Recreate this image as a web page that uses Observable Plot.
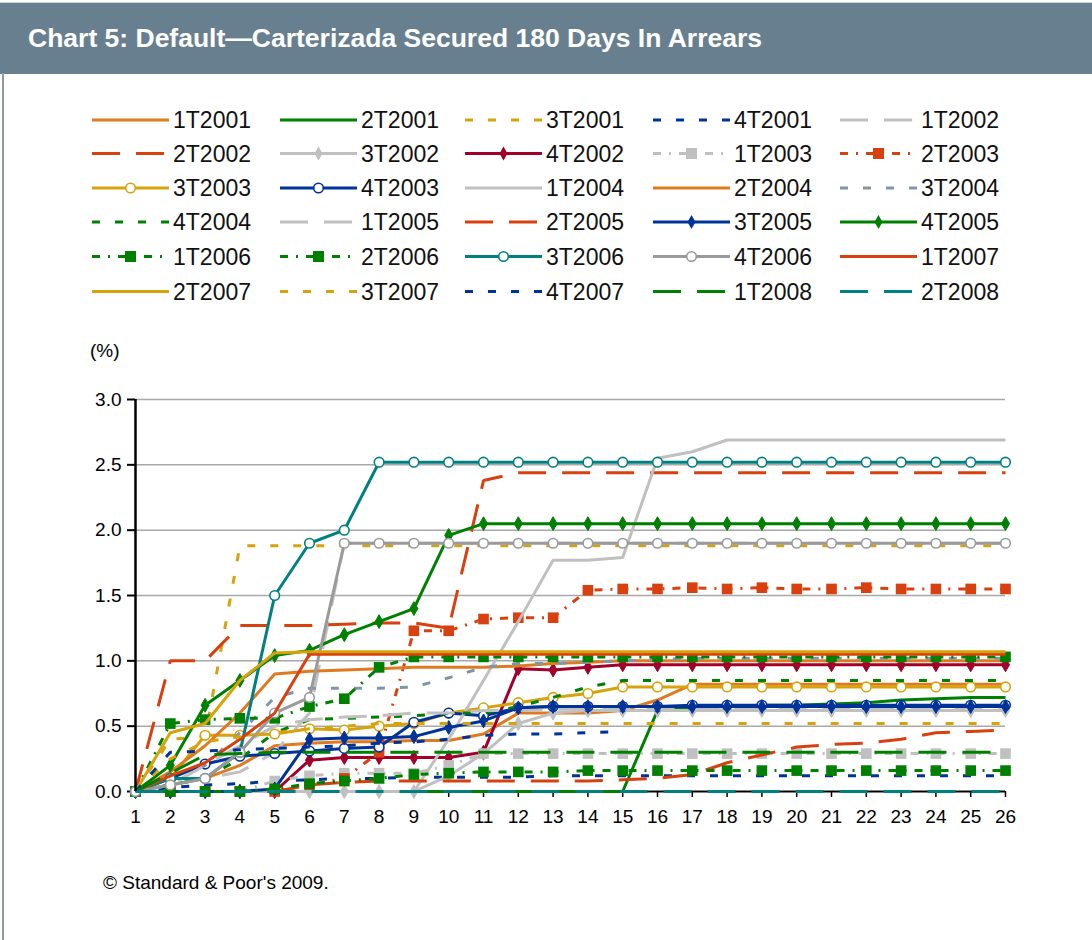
<!DOCTYPE html>
<html><head><meta charset="utf-8">
<script src="https://cdn.jsdelivr.net/npm/d3@7"></script>
<script src="https://cdn.jsdelivr.net/npm/@observablehq/plot@0.6"></script>
<style>
body{margin:0;background:#fff;}
#page{position:relative;width:1092px;height:940px;overflow:hidden;background:#fff;font-family:"Liberation Sans",Arial,sans-serif;}
#band{position:absolute;left:0;top:2px;width:1092px;height:71px;background:#687F90;border-top:1px solid #c9d2d8;}
#frameL{position:absolute;left:2px;top:73px;width:2px;height:867px;background:#8d9ba6;}
#title{position:absolute;left:0;top:0;}
#legend{position:absolute;left:0;top:100px;}
#unit{position:absolute;left:90px;top:340px;font-size:19px;color:#000;}
#chart{position:absolute;left:0;top:330px;}
#caption{position:absolute;left:103px;top:872px;font-size:19px;color:#000;}
</style></head>
<body>
<div id="page">
  <div id="band"></div>
  <div id="frameL"></div>
  <svg id="title" width="1092" height="75"><text x="28" y="47" fill="#fff" font-family="'Liberation Sans Narrow','Liberation Sans',Arial" font-weight="bold" font-size="26" textLength="734" lengthAdjust="spacingAndGlyphs">Chart 5: Default—Carterizada Secured 180 Days In Arrears</text></svg>
  <svg id="legend" width="1092" height="210"></svg>
  <div id="unit">(%)</div>
  <div id="chart"></div>
  <div id="caption">© Standard &amp; Poor's 2009.</div>
</div>
<script>
// ---------- data ----------
const quarters = [1,2,3,4,5,6,7,8,9,10,11,12,13,14,15,16,17,18,19,20,21,22,23,24,25,26];
const yTicks = [0,0.5,1.0,1.5,2.0,2.5,3.0];
const seriesNames = ["1T2001","2T2001","3T2001","4T2001","1T2002","2T2002","3T2002","4T2002","1T2003","2T2003",
  "3T2003","4T2003","1T2004","2T2004","3T2004","4T2004","1T2005","2T2005","3T2005","4T2005",
  "1T2006","2T2006","3T2006","4T2006","1T2007","2T2007","3T2007","4T2007","1T2008","2T2008"];

const v1T2001 = [0,0.05,0.1,0.2,0.35,0.37,0.38,0.38,0.39,0.39,0.44,0.6,0.6,0.6,0.62,0.7,0.82,0.82,0.82,0.82,0.82,0.82,0.82,0.82,0.82,0.82];
const v2T2001 = [0,0,0,0,0,0,0,0,0,0,0,0,0,0,0,0.62,0.64,0.65,0.66,0.66,0.67,0.68,0.7,0.71,0.72,0.72];
const v3T2001 = [0,0.4,0.42,1.88,1.88,1.88,1.88,1.88,1.88,1.88,1.88,1.88,1.88,1.88,1.88,1.88,1.88,1.88,1.88,1.88,1.88,1.88,1.88,1.88,1.88,1.88];
const v4T2001 = [0,0.03,0.05,0.06,0.08,0.09,0.1,0.1,0.11,0.11,0.11,0.11,0.12,0.12,0.12,0.12,0.12,0.12,0.12,0.12,0.12,0.12,0.12,0.12,0.12,0.12];
const v1T2002 = [0,0.05,0.1,0.15,0.3,0.6,1.9,1.9,1.9,1.9,1.9,1.9,1.9,1.9,1.9,1.9,1.9,1.9,1.9,1.9,1.9,1.9,1.9,1.9,1.9,1.9];
const v2T2002 = [0,1.0,1.0,1.27,1.27,1.27,1.28,1.29,1.29,1.25,2.38,2.44,2.44,2.44,2.44,2.44,2.44,2.44,2.44,2.44,2.44,2.44,2.44,2.44,2.44,2.44];
const v3T2002 = [0,0,0,0,0,0,0,0,0,0.12,0.29,0.52,0.6,0.62,0.62,0.62,0.62,0.62,0.62,0.62,0.62,0.62,0.62,0.62,0.62,0.62];
const v4T2002 = [0,0,0,0,0,0.24,0.26,0.26,0.26,0.26,0.3,0.94,0.93,0.95,0.97,0.97,0.97,0.97,0.97,0.97,0.97,0.97,0.97,0.97,0.97,0.97];
const v1T2003 = [0,0,0,0,0.08,0.12,0.14,0.14,0.14,0.2,0.29,0.29,0.29,0.29,0.29,0.29,0.29,0.29,0.29,0.29,0.29,0.29,0.29,0.29,0.29,0.29];
const v2T2003 = [0,0,0,0,0,0.05,0.1,0.3,1.23,1.23,1.32,1.33,1.33,1.54,1.55,1.55,1.56,1.55,1.56,1.55,1.55,1.56,1.55,1.55,1.55,1.55];
const v3T2003 = [0,0.1,0.43,0.43,0.44,0.48,0.47,0.5,0.52,0.6,0.64,0.68,0.72,0.75,0.8,0.8,0.8,0.8,0.8,0.8,0.8,0.8,0.8,0.8,0.8,0.8];
const v4T2003 = [0,0.1,0.21,0.27,0.29,0.31,0.33,0.34,0.53,0.6,0.58,0.64,0.65,0.65,0.65,0.65,0.66,0.66,0.66,0.66,0.66,0.66,0.66,0.66,0.66,0.66];
const v1T2004 = [0,0,0,0,0,0,0,0,0,0.4,0.85,1.3,1.77,1.77,1.79,2.55,2.6,2.69,2.69,2.69,2.69,2.69,2.69,2.69,2.69,2.69];
const v2T2004 = [0,0.15,0.35,0.6,0.9,0.92,0.93,0.94,0.95,0.95,0.95,0.96,0.98,0.99,1.0,1.0,1.0,1.0,1.0,1.0,1.0,1.0,1.0,1.0,1.0,1.0];
const v3T2004 = [0,0.05,0.2,0.45,0.72,0.79,0.79,0.79,0.8,0.87,0.95,0.98,0.98,0.99,1.0,1.01,1.02,1.02,1.02,1.02,1.02,1.02,1.02,1.02,1.02,1.02];
const v4T2004 = [0,0.05,0.1,0.25,0.45,0.55,0.56,0.57,0.58,0.6,0.6,0.65,0.72,0.8,0.85,0.85,0.85,0.85,0.85,0.85,0.85,0.85,0.85,0.85,0.85,0.85];
const v1T2005 = [0,0.05,0.2,0.35,0.5,0.55,0.57,0.58,0.6,0.6,0.62,0.62,0.63,0.63,0.63,0.63,0.63,0.63,0.63,0.63,0.63,0.63,0.63,0.63,0.63,0.63];
const v2T2005 = [0,0,0,0,0,0.05,0.07,0.08,0.08,0.08,0.08,0.08,0.08,0.08,0.09,0.1,0.13,0.22,0.28,0.34,0.36,0.37,0.4,0.45,0.46,0.47];
const v3T2005 = [0,0,0,0,0.02,0.4,0.41,0.41,0.42,0.49,0.54,0.64,0.65,0.65,0.65,0.65,0.65,0.65,0.65,0.65,0.65,0.65,0.65,0.65,0.65,0.65];
const v4T2005 = [0,0.2,0.66,0.85,1.04,1.08,1.2,1.3,1.4,1.96,2.05,2.05,2.05,2.05,2.05,2.05,2.05,2.05,2.05,2.05,2.05,2.05,2.05,2.05,2.05,2.05];
const v1T2006 = [0,0.52,0.55,0.56,0.56,0.65,0.71,0.95,1.03,1.03,1.03,1.03,1.03,1.03,1.03,1.03,1.03,1.03,1.03,1.03,1.03,1.03,1.03,1.03,1.03,1.03];
const v2T2006 = [0,0,0,0,0.02,0.06,0.08,0.1,0.13,0.14,0.15,0.15,0.15,0.16,0.16,0.16,0.16,0.16,0.16,0.16,0.16,0.16,0.16,0.16,0.16,0.16];
const v3T2006 = [0,0.1,0.1,0.3,1.5,1.9,2.0,2.52,2.52,2.52,2.52,2.52,2.52,2.52,2.52,2.52,2.52,2.52,2.52,2.52,2.52,2.52,2.52,2.52,2.52,2.52];
const v4T2006 = [0,0.05,0.1,0.3,0.6,0.72,1.9,1.9,1.9,1.9,1.9,1.9,1.9,1.9,1.9,1.9,1.9,1.9,1.9,1.9,1.9,1.9,1.9,1.9,1.9,1.9];
const v1T2007 = [0,0.12,0.22,0.4,0.6,1.05,1.05,1.05,1.05,1.05,1.05,1.05,1.05,1.05,1.05,1.05,1.05,1.05,1.05,1.05,1.05,1.05,1.05,1.05,1.05,1.05];
const v2T2007 = [0,0.45,0.52,0.85,1.06,1.07,1.07,1.07,1.07,1.07,1.07,1.07,1.07,1.07,1.07,1.07,1.07,1.07,1.07,1.07,1.07,1.07,1.07,1.07,1.07,1.07];
const v3T2007 = [0,0.25,0.38,0.42,0.45,0.48,0.5,0.52,0.52,0.52,0.52,0.52,0.52,0.52,0.52,0.52,0.52,0.52,0.52,0.52,0.52,0.52,0.52,0.52,0.52,0.52];
const v4T2007 = [0,0.3,0.31,0.32,0.33,0.34,0.35,0.37,0.38,0.4,0.43,0.44,0.44,0.45,0.46];
const v1T2008 = [0,0.14,0.28,0.29,0.3,0.3,0.3,0.3,0.3,0.3,0.3,0.3,0.3,0.3,0.3,0.3,0.3,0.3,0.3,0.3,0.3,0.3,0.3,0.3,0.3,0.3];
const v2T2008 = [0,0,0,0,0,0,0,0,0,0,0,0,0,0,0,0,0,0,0,0,0,0,0,0,0,0];

const seriesValues = [v1T2001,v2T2001,v3T2001,v4T2001,v1T2002,v2T2002,v3T2002,v4T2002,v1T2003,v2T2003,
  v3T2003,v4T2003,v1T2004,v2T2004,v3T2004,v4T2004,v1T2005,v2T2005,v3T2005,v4T2005,
  v1T2006,v2T2006,v3T2006,v4T2006,v1T2007,v2T2007,v3T2007,v4T2007,v1T2008,v2T2008];

// ---------- styles ----------
const C = {orange:"#E07A1F", red:"#D9400F", gold:"#D6A30A", green:"#008000", blue:"#003399",
  teal:"#008080", crimson:"#A0002A", lgray:"#C0C0C0", dgray:"#9A9A9A", slate:"#7F96A8"};
const SH = "8,15", LD = "28,16", DD = "8,8,2,8";
const styles = {
  "1T2001":{c:C.orange},            "2T2001":{c:C.green},
  "3T2001":{c:C.gold,d:SH},         "4T2001":{c:C.blue,d:SH},
  "1T2002":{c:C.lgray,d:LD},        "2T2002":{c:C.red,d:LD},
  "3T2002":{c:C.lgray,m:"diamond"}, "4T2002":{c:C.crimson,m:"diamond"},
  "1T2003":{c:C.lgray,d:DD,m:"square"}, "2T2003":{c:C.red,d:DD,m:"square"},
  "3T2003":{c:C.gold,m:"open"},     "4T2003":{c:C.blue,m:"open"},
  "1T2004":{c:C.lgray},             "2T2004":{c:C.orange},
  "3T2004":{c:C.slate,d:SH},        "4T2004":{c:C.green,d:SH},
  "1T2005":{c:C.lgray,d:LD},        "2T2005":{c:C.red,d:LD},
  "3T2005":{c:C.blue,m:"diamond"},  "4T2005":{c:C.green,m:"diamond"},
  "1T2006":{c:C.green,d:DD,m:"square"}, "2T2006":{c:C.green,d:DD,m:"square"},
  "3T2006":{c:C.teal,m:"open"},     "4T2006":{c:C.dgray,m:"open"},
  "1T2007":{c:C.red},               "2T2007":{c:C.gold},
  "3T2007":{c:C.gold,d:SH},         "4T2007":{c:C.blue,d:SH},
  "1T2008":{c:C.green,d:LD},        "2T2008":{c:C.teal,d:LD}
};

// ---------- table ----------
const table = [];
seriesNames.forEach((name, i) => {
  seriesValues[i].forEach((v, j) => table.push({series: name, q: quarters[j], value: v}));
});

const LW = 3;
const seriesMarks = [];
seriesNames.forEach(name => {
  const st = styles[name];
  const data = table.filter(d => d.series === name);
  seriesMarks.push(Plot.line(data, {x:"q", y:"value", stroke:st.c, strokeWidth:LW, strokeDasharray:st.d || null, strokeLinejoin:"miter", strokeLinecap:"butt"}));
  if (st.m === "diamond") seriesMarks.push(Plot.dot(data, {x:"q", y:"value", symbol:"diamond", r:4.2, fill:st.c, stroke:st.c, strokeWidth:1}));
  if (st.m === "square") seriesMarks.push(Plot.dot(data, {x:"q", y:"value", symbol:"square", r:6, fill:st.c}));
  if (st.m === "open") seriesMarks.push(Plot.dot(data, {x:"q", y:"value", symbol:"circle", r:4.8, fill:"#fff", stroke:st.c, strokeWidth:1.6}));
});

const chart = Plot.plot({
  width: 1092, height: 510,
  marginLeft: 135, marginRight: 87, marginTop: 69, marginBottom: 49,
  x: {type:"linear", domain:[1,26], label:null},
  y: {domain:[0,3], label:null},
  style: {fontFamily:"'Liberation Sans',Arial,sans-serif", fontSize:"19px", color:"#000", background:"transparent", overflow:"visible"},
  marks: [
    Plot.gridY(yTicks.filter(t => t > 0), {stroke:"#A8A8A8", strokeOpacity:1, strokeWidth:1.5}),
    Plot.axisY(yTicks, {tickFormat:d3.format(".1f"), tickSize:8, tickPadding:6, stroke:"#000", strokeWidth:2, fill:"#000"}),
    Plot.axisX(quarters, {tickFormat:d => String(d), tickSize:6, tickPadding:12, stroke:"#000", strokeWidth:1.5, fill:"#000"}),
    Plot.ruleY([0], {stroke:"#000", strokeWidth:2}),
    ...seriesMarks,
    Plot.ruleX([1], {y1:0, y2:3, stroke:"#000", strokeWidth:2.5})
  ]
});
document.getElementById("chart").appendChild(chart);

// ---------- legend ----------
const lg = d3.select("#legend");
const colX = [92, 280, 465, 653, 840];
const rowY = [20, 53.5, 88, 122, 156.5, 191.5];
seriesNames.forEach((name, i) => {
  const st = styles[name];
  const x0 = colX[i % 5], y0 = rowY[Math.floor(i / 5)];
  lg.append("line").attr("x1", x0).attr("x2", x0 + 77).attr("y1", y0).attr("y2", y0)
    .attr("stroke", st.c).attr("stroke-width", LW).attr("stroke-dasharray", st.d || null);
  const mx = x0 + 38.5;
  if (st.m === "diamond") lg.append("path").attr("d", d3.symbol(d3.symbolDiamond, Math.PI*4.2*4.2)()).attr("transform", `translate(${mx},${y0})`).attr("fill", st.c);
  if (st.m === "square") lg.append("rect").attr("x", mx-5.5).attr("y", y0-5.5).attr("width", 11).attr("height", 11).attr("fill", st.c);
  if (st.m === "open") lg.append("circle").attr("cx", mx).attr("cy", y0).attr("r", 4.8).attr("fill", "#fff").attr("stroke", st.c).attr("stroke-width", 1.6);
  lg.append("text").attr("x", x0 + 81).attr("y", y0).attr("dy", "0.36em")
    .attr("font-family", "'Liberation Sans',Arial,sans-serif").attr("font-size", 23).attr("fill", "#111").text(name);
});
</script>
</body></html>
